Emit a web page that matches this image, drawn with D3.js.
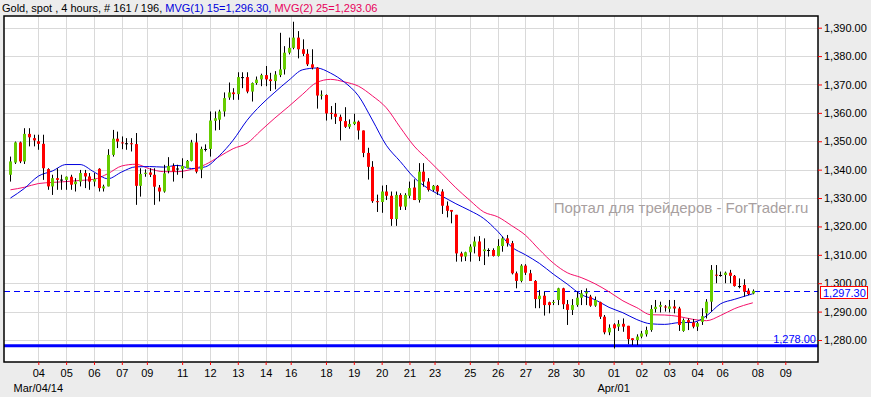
<!DOCTYPE html>
<html>
<head>
<meta charset="utf-8">
<script src="https://cdn.jsdelivr.net/npm/d3@7"></script>
<style>
  html, body { margin: 0; padding: 0; background: #ececec; }
  #vis { width: 871px; height: 397px; }
  text { font-family: "Liberation Sans", Arial, sans-serif; }
</style>
</head>
<body>
<div id="vis"></div>
<script>
// candle index of the first bar (Sunday Mar 2 bar is off the left edge)
const firstIndex = 1;

const openV = [
  1338.2,1342.5,1349.6,1342.9,1352.6,1351.1,1350.0,1349.1,1340.2,1334.1,
  1337.0,1336.5,1336.4,1337.5,1334.9,1335.8,1338.8,1337.6,1335.8,1340.3,
  1333.4,1334.1,1345.2,1350.9,1349.6,1349.3,1349.3,1349.0,1334.3,1338.5,
  1339.0,1338.2,1333.7,1332.3,1339.6,1341.3,1340.4,1340.2,1340.5,1343.1,
  1349.6,1340.0,1347.3,1347.3,1357.2,1357.6,1360.5,1365.4,1367.2,1366.6,
  1372.6,1372.6,1367.5,1370.5,1371.8,1373.3,1371.8,1371.2,1373.3,1375.3,
  1381.2,1382.9,1386.5,1382.4,1380.8,1377.1,1375.9,1366.2,1366.3,1360.0,
  1359.7,1358.6,1357.1,1355.1,1356.1,1356.9,1353.8,1345.9,1341.0,1328.9,
  1328.6,1332.3,1330.8,1322.6,1331.1,1327.0,1330.8,1333.7,1329.3,1339.3,
  1335.8,1332.9,1334.3,1332.3,1327.3,1325.8,1324.1,1310.5,1309.4,1310.9,
  1312.9,1314.7,1311.3,1311.7,1311.7,1309.6,1313.1,1315.8,1314.1,1303.5,
  1300.8,1306.2,1303.5,1300.8,1294.4,1295.6,1293.3,1293.2,1294.1,1298.2,
  1292.6,1290.6,1292.3,1294.9,1296.4,1295.3,1292.1,1293.3,1288.2,1282.7,
  1285.5,1284.7,1285.7,1285.0,1280.6,1280.0,1281.2,1282.0,1283.5,1290.9,
  1291.7,1291.8,1291.0,1291.8,1291.1,1283.2,1287.0,1286.2,1284.7,1286.4,
  1289.4,1293.5,1303.0,1302.9,1302.9,1303.7,1302.6,1299.0,1299.4,1297.4,
  1296.4
];
const highV = [
  1344.6,1349.9,1349.9,1354.6,1354.6,1352.3,1352.3,1352.3,1340.5,1338.2,
  1340.5,1338.2,1337.6,1338.2,1337.0,1339.9,1339.9,1338.8,1338.8,1340.5,
  1334.7,1347.2,1354.0,1353.4,1351.7,1351.1,1351.1,1352.9,1340.5,1340.1,
  1340.5,1340.5,1334.6,1341.7,1344.4,1342.2,1341.7,1344.0,1343.4,1350.5,
  1352.8,1348.1,1348.9,1360.5,1360.5,1361.1,1367.2,1370.7,1368.7,1374.3,
  1374.3,1374.3,1370.7,1372.8,1373.8,1376.5,1374.1,1374.7,1388.2,1383.5,
  1386.5,1392.1,1388.8,1385.9,1382.4,1382.4,1376.1,1367.9,1366.5,1362.4,
  1363.5,1359.4,1362.0,1357.7,1359.7,1357.3,1353.8,1347.7,1343.0,1331.2,
  1334.4,1334.6,1332.3,1332.3,1331.7,1331.7,1335.8,1336.6,1342.3,1342.3,
  1337.0,1334.6,1334.6,1333.1,1328.8,1325.8,1324.1,1311.1,1311.1,1313.7,
  1316.4,1316.6,1315.8,1312.3,1312.3,1315.5,1316.4,1317.0,1314.9,1304.1,
  1306.7,1306.7,1304.7,1301.1,1297.6,1297.0,1293.5,1294.1,1298.4,1298.4,
  1294.1,1294.4,1297.0,1297.6,1298.2,1295.9,1295.3,1293.5,1288.8,1285.5,
  1285.9,1287.0,1287.6,1285.0,1280.6,1282.0,1283.2,1284.7,1292.3,1294.1,
  1293.5,1292.3,1294.1,1294.1,1291.7,1287.6,1287.6,1287.4,1286.4,1291.2,
  1294.4,1306.4,1306.4,1304.1,1304.1,1304.7,1302.9,1301.7,1301.4,1298.2,
  1297.8
];
const lowV = [
  1335.8,1342.0,1342.3,1342.0,1348.2,1348.2,1347.0,1336.4,1332.9,1331.1,
  1332.9,1332.9,1332.9,1332.9,1332.3,1334.1,1333.5,1332.9,1334.1,1332.3,
  1332.3,1334.1,1344.6,1347.6,1347.2,1347.0,1346.4,1327.6,1330.5,1337.5,
  1337.4,1327.6,1328.8,1331.9,1338.7,1335.8,1338.2,1337.0,1340.5,1342.9,
  1338.7,1337.0,1346.4,1344.6,1353.8,1354.0,1358.7,1364.6,1364.6,1364.6,
  1368.7,1366.9,1364.0,1369.9,1369.4,1369.4,1367.7,1368.3,1372.6,1373.5,
  1380.6,1382.4,1379.2,1380.0,1376.5,1375.3,1361.5,1364.7,1357.3,1357.7,
  1356.1,1350.3,1354.7,1354.4,1355.7,1350.6,1344.4,1336.5,1328.3,1325.1,
  1324.8,1329.3,1320.2,1320.2,1325.8,1325.8,1329.9,1329.3,1328.4,1334.0,
  1332.3,1332.3,1331.1,1324.4,1323.2,1321.1,1307.6,1307.6,1307.8,1307.6,
  1310.5,1307.8,1306.4,1309.4,1309.4,1309.4,1311.1,1312.9,1303.1,1298.2,
  1300.3,1302.9,1300.8,1291.2,1291.2,1288.6,1289.4,1292.3,1292.3,1290.9,
  1285.3,1288.8,1291.7,1292.3,1292.3,1291.7,1291.7,1287.4,1282.0,1281.7,
  1277.0,1283.2,1282.9,1278.5,1278.2,1278.2,1280.6,1281.2,1282.9,1289.7,
  1289.7,1290.0,1289.7,1289.4,1283.2,1282.9,1283.5,1284.1,1283.2,1285.3,
  1287.6,1290.0,1300.0,1302.3,1300.0,1300.0,1298.8,1298.2,1295.3,1295.8,
  1296.1
];
const closeV = [
  1342.9,1349.6,1342.9,1352.6,1351.4,1350.3,1349.1,1340.5,1334.1,1337.0,
  1336.4,1336.5,1337.5,1334.7,1335.8,1338.8,1337.6,1335.8,1336.7,1333.5,
  1334.1,1345.2,1350.9,1349.9,1349.3,1349.3,1349.0,1334.3,1338.5,1338.9,
  1338.2,1334.0,1332.3,1338.7,1341.3,1339.3,1340.4,1341.3,1343.1,1349.6,
  1339.3,1347.3,1347.3,1357.3,1358.1,1360.5,1365.2,1367.2,1366.6,1372.6,
  1372.6,1367.5,1370.5,1371.7,1373.3,1371.8,1371.2,1373.5,1375.3,1381.2,
  1382.9,1386.5,1382.4,1380.8,1377.1,1375.9,1366.1,1366.4,1359.8,1359.7,
  1358.6,1357.1,1355.1,1356.1,1356.9,1353.8,1345.9,1341.0,1328.9,1328.6,
  1332.3,1330.8,1322.6,1331.1,1327.0,1331.1,1333.5,1329.3,1339.3,1335.8,
  1332.9,1334.3,1332.3,1327.3,1325.5,1325.2,1310.5,1309.4,1310.9,1312.9,
  1314.7,1309.4,1311.9,1311.7,1309.6,1313.1,1315.8,1314.1,1303.5,1300.8,
  1306.2,1303.7,1300.8,1294.4,1295.6,1292.3,1292.3,1293.4,1298.2,1292.6,
  1290.6,1292.3,1294.9,1296.4,1297.0,1292.1,1294.1,1288.2,1282.7,1284.3,
  1284.1,1285.7,1284.7,1280.3,1280.0,1281.2,1282.3,1283.5,1290.9,1291.7,
  1292.3,1291.7,1291.8,1291.1,1285.3,1287.0,1286.2,1284.7,1285.9,1288.4,
  1293.5,1304.7,1302.9,1302.9,1303.7,1302.6,1299.0,1299.0,1297.0,1296.2,
  1297.3
];

// moving averages every 3 bars
const maIndex = [1,4,7,10,13,16,19,22,25,28,31,34,37,40,43,46,49,52,55,58,
  61,64,67,70,73,76,79,82,85,88,91,94,97,100,103,106,109,112,115,118,121,124,
  127,130,133,136,139,142,145,148,151,154,157,161];
const ma15 = [1330.0,1333.4,1337.7,1339.5,1341.8,1341.8,1339.2,1336.8,1339.2,1341.0,
  1341.1,1340.9,1341.5,1340.4,1341.0,1344.9,1350.4,1357.4,1362.8,1367.3,
  1371.5,1375.2,1375.8,1374.0,1370.8,1366.0,1357.5,1348.6,1342.9,1337.2,
  1333.4,1330.7,1328.0,1325.6,1322.8,1318.3,1312.8,1310.0,1307.0,1303.2,
  1299.7,1296.0,1294.2,1291.5,1289.6,1287.2,1285.7,1285.5,1286.1,1286.2,
  1288.5,1292.7,1294.3,1296.3];
const ma25 = [1332.9,1333.8,1335.1,1335.5,1335.8,1336.2,1336.6,1338.6,1341.3,1341.9,
  1340.3,1339.3,1339.3,1340.1,1341.8,1344.6,1347.4,1349.3,1353.8,1358.2,
  1362.3,1366.6,1370.7,1371.8,1370.9,1369.4,1366.0,1361.8,1354.9,1348.3,
  1343.5,1338.6,1333.6,1329.2,1325.1,1323.4,1320.3,1316.9,1311.8,1307.1,
  1303.7,1302.0,1299.8,1297.0,1293.8,1291.4,1288.9,1288.8,1288.3,1287.3,
  1286.8,1288.6,1291.0,1293.1];

const yTicks = [1280,1290,1300,1310,1320,1330,1340,1350,1360,1370,1380,1390];
const dayLabels = ["04","05","06","07","09","11","12","13","14","16","18","19","20","21",
  "23","25","26","27","28","30","01","02","03","04","06","08","09"];
const dayIndex = [7,13,19,25,30.4,38,44,50,56,61.4,69,75,81,87,
  92.4,100,106,112,118,123.4,131,137,143,149,154.4,162,168];
const monthLabels = ["Mar/04/14","Apr/01"];
const monthIndex = [7,131];

const lastPrice = 1297.30;
const supportLevel = 1278.00;
const title = "Gold, spot , 4 hours, # 161 / 196, ";
const ma15Title = "MVG(1) 15=1,296.30, ";
const ma25Title = "MVG(2) 25=1,293.06";
const watermark = "Портал для трейдеров - ForTrader.ru";

const chart = {
  width: 871,
  height: 397,
  plot: { left: 4, top: 16, right: 818, bottom: 362 },
  up: "#66cc00",
  down: "#ff0000",
  blue: "#0000dd",
  pink: "#f5106a"
};

const candles = openV.map((o, k) => ({
  i: k + firstIndex, o: o, h: highV[k], l: lowV[k], c: closeV[k]
}));

const xScale = d3.scaleLinear().domain([7, 168]).range([38.3, 785.3]);
const yScale = d3.scaleLinear().domain([1280, 1390]).range([340, 27.7]);
const fmt = d3.format(",.2f");

const svg = d3.select("#vis").append("svg")
  .attr("width", chart.width)
  .attr("height", chart.height);

const p = chart.plot;

// plot background
svg.append("rect")
  .attr("x", p.left).attr("y", p.top)
  .attr("width", p.right - p.left).attr("height", p.bottom - p.top)
  .attr("fill", "#ffffff");

// grid
const grid = svg.append("g").attr("stroke", "#d9d9d9").attr("stroke-width", 1);
grid.selectAll("line.v").data(dayIndex).enter().append("line")
  .attr("x1", d => Math.round(xScale(d)) + 0.5).attr("x2", d => Math.round(xScale(d)) + 0.5)
  .attr("y1", p.top).attr("y2", p.bottom);
grid.selectAll("line.h").data(yTicks).enter().append("line")
  .attr("x1", p.left).attr("x2", p.right)
  .attr("y1", d => Math.round(yScale(d)) + 0.5).attr("y2", d => Math.round(yScale(d)) + 0.5);

// watermark
svg.append("text")
  .attr("x", 681).attr("y", 213)
  .attr("text-anchor", "middle")
  .attr("font-size", 15)
  .attr("fill", "#a89f9f")
  .text(watermark);

// support level
svg.append("line")
  .attr("x1", p.left).attr("x2", p.right)
  .attr("y1", yScale(supportLevel)).attr("y2", yScale(supportLevel))
  .attr("stroke", "#0000ff").attr("stroke-width", 3);
svg.append("text")
  .attr("x", p.right - 2).attr("y", yScale(supportLevel) - 3)
  .attr("text-anchor", "end").attr("font-size", 11).attr("fill", "#0000ff")
  .text(fmt(supportLevel));

// last price dashed line
svg.append("line")
  .attr("x1", p.left).attr("x2", p.right)
  .attr("y1", Math.round(yScale(lastPrice)) + 0.5).attr("y2", Math.round(yScale(lastPrice)) + 0.5)
  .attr("stroke", "#0000ff").attr("stroke-width", 1)
  .attr("stroke-dasharray", "6,4");

// moving averages
const maLine = vals => d3.line()
  .x((d, k) => xScale(d))
  .y((d, k) => yScale(vals[k]))
  .curve(d3.curveMonotoneX)(maIndex);
svg.append("path").attr("d", maLine(ma25))
  .attr("fill", "none").attr("stroke", chart.pink).attr("stroke-width", 1);
svg.append("path").attr("d", maLine(ma15))
  .attr("fill", "none").attr("stroke", chart.blue).attr("stroke-width", 1);

// candles
const cg = svg.append("g");
cg.selectAll("line.wick").data(candles).enter().append("line")
  .attr("x1", d => Math.round(xScale(d.i)) + 0.5)
  .attr("x2", d => Math.round(xScale(d.i)) + 0.5)
  .attr("y1", d => yScale(d.h)).attr("y2", d => yScale(d.l))
  .attr("stroke", "#000").attr("stroke-width", 1);
cg.selectAll("rect.body").data(candles).enter().append("rect")
  .attr("x", d => Math.round(xScale(d.i)) - 1)
  .attr("width", 3)
  .attr("y", d => Math.min(yScale(d.o), yScale(d.c)))
  .attr("height", d => Math.max(1, Math.abs(yScale(d.o) - yScale(d.c))))
  .attr("fill", d => d.c > d.o ? chart.up : (d.c < d.o ? chart.down : "#000"));

// frame
svg.append("rect")
  .attr("x", p.left).attr("y", p.top)
  .attr("width", p.right - p.left).attr("height", p.bottom - p.top)
  .attr("fill", "none").attr("stroke", "#000").attr("stroke-width", 1.5);

// y axis on the right
const yAxis = svg.append("g")
  .attr("transform", `translate(${p.right},0)`)
  .call(d3.axisRight(yScale).tickValues(yTicks).tickFormat(fmt).tickSize(4).tickPadding(2));
yAxis.select(".domain").remove();
yAxis.selectAll(".tick line").attr("stroke", "#ff0000");
yAxis.selectAll("text").attr("font-size", 11).attr("fill", "#000")
  .attr("font-family", "Liberation Sans, Arial, sans-serif");

// x axis
const xAxis = svg.append("g")
  .attr("transform", `translate(0,${p.bottom})`)
  .call(d3.axisBottom(xScale).tickValues(dayIndex).tickFormat((d, k) => dayLabels[k]).tickSize(3).tickPadding(4));
xAxis.select(".domain").remove();
xAxis.selectAll(".tick line").attr("stroke", "#ff0000");
xAxis.selectAll("text").attr("font-size", 11).attr("fill", "#000")
  .attr("font-family", "Liberation Sans, Arial, sans-serif");

svg.append("g").selectAll("text").data(monthIndex).enter().append("text")
  .attr("x", d => xScale(d)).attr("y", 392)
  .attr("text-anchor", "middle").attr("font-size", 11).attr("fill", "#000")
  .text((d, k) => monthLabels[k]);

// last price label, drawn over the 1,300.00 tick label as in the source chart
const lp = svg.append("g").attr("transform", `translate(820,${Math.round(yScale(lastPrice)) - 5})`);
lp.append("rect").attr("x", 0.5).attr("y", 0.5).attr("width", 47).attr("height", 12)
  .attr("fill", "#fff").attr("stroke", "#ff0000");
lp.append("text").attr("x", 3).attr("y", 10.5)
  .attr("font-size", 11).attr("fill", "#0000ff").text(fmt(lastPrice));

// header
const head = svg.append("text").attr("x", 2).attr("y", 12).attr("font-size", 11);
head.append("tspan").attr("fill", "#000").text(title);
head.append("tspan").attr("fill", chart.blue).text(ma15Title);
head.append("tspan").attr("fill", "#e8005a").text(ma25Title);
</script>
</body>
</html>
